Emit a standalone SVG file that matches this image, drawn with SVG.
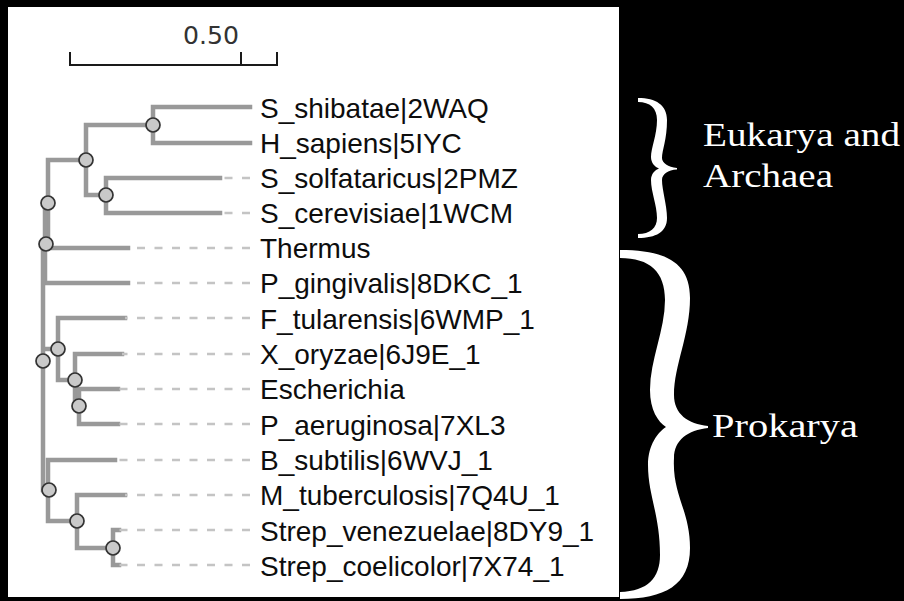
<svg xmlns="http://www.w3.org/2000/svg" width="904" height="601" viewBox="0 0 904 601">
<style>
.br{stroke:#999999;stroke-width:4.5;fill:none;stroke-linecap:square}
.ds{stroke:#c4c4c4;stroke-width:2.5;fill:none;stroke-dasharray:8 9.5}
.nd{fill:#c9c9c9;stroke:#333333;stroke-width:1.7}
.lb{font-family:"Liberation Sans",Arial,sans-serif;font-size:28px;fill:#0d0d0d}
.gl{font-family:"Liberation Serif","Times New Roman",serif;font-size:33px;fill:#ffffff}
.sc{stroke:#1a1a1a;stroke-width:2;fill:none}
</style>
<rect x="0" y="0" width="904" height="601" fill="#000"/>
<rect x="8" y="7" width="611" height="590" fill="#fff"/>
<g id="scale">
<path class="sc" d="M70,52V65H277V52M241,52V65"/>
<text x="183" y="44" textLength="56" lengthAdjust="spacingAndGlyphs" style="font-family:'DejaVu Sans',sans-serif;font-size:24px;fill:#333">0.50</text>
</g>
<g id="connectors">
<path class="br" d="M153,107V143M153,107H250M153,143H250"/>
<path class="br" d="M106,178V213M106,178H220M106,213H220"/>
<path class="br" d="M86,125V195M86,125H153M86,195H106"/>
<path class="br" d="M48,160V248M48,160H86M48,248H128"/>
<path class="br" d="M45,203V283M45,203H48M45,283H128"/>
<path class="br" d="M43,244V490M43,244H45M43,349H58M43,490H48"/>
<path class="br" d="M58,318V380M58,318H125M58,380H75"/>
<path class="br" d="M75,354V406M75,354H122M75,406H79"/>
<path class="br" d="M79,389V424M79,389H118M79,424H118"/>
<path class="br" d="M48,460V521M48,460H115M48,521H77"/>
<path class="br" d="M77,495V548M77,495H125M77,548H113"/>
<path class="br" d="M113,530V565M113,530H119M113,565H119"/>
<path class="ds" d="M250,178H220M250,213H220M250,248H128M250,283H128M250,318H125M250,354H122M250,389H118M250,424H118M250,460H115M250,495H125M250,530H119M250,565H119"/>
</g>
<g id="nA"><circle class="nd" cx="153" cy="125" r="7"/></g>
<g id="nC"><circle class="nd" cx="86" cy="160" r="7"/></g>
<g id="nB"><circle class="nd" cx="106" cy="195" r="7"/></g>
<g id="nD"><circle class="nd" cx="48" cy="203" r="7"/></g>
<g id="nE"><circle class="nd" cx="46" cy="244" r="7"/></g>
<g id="nH"><circle class="nd" cx="58" cy="349" r="7"/></g>
<g id="nF"><circle class="nd" cx="43" cy="361" r="7"/></g>
<g id="nI"><circle class="nd" cx="75" cy="380" r="7"/></g>
<g id="nJ"><circle class="nd" cx="79" cy="406" r="7"/></g>
<g id="nG"><circle class="nd" cx="49" cy="490" r="7"/></g>
<g id="nK"><circle class="nd" cx="77" cy="521" r="7"/></g>
<g id="nL"><circle class="nd" cx="113" cy="548" r="7"/></g>
<g id="leaf1"><text class="lb" x="260" y="117.5">S_shibatae|2WAQ</text></g>
<g id="leaf2"><text class="lb" x="260" y="153">H_sapiens|5IYC</text></g>
<g id="leaf3"><text class="lb" x="260" y="188">S_solfataricus|2PMZ</text></g>
<g id="leaf4"><text class="lb" x="260" y="223">S_cerevisiae|1WCM</text></g>
<g id="leaf5"><text class="lb" x="260" y="258">Thermus</text></g>
<g id="leaf6"><text class="lb" x="260" y="293">P_gingivalis|8DKC_1</text></g>
<g id="leaf7"><text class="lb" x="260" y="328.5">F_tularensis|6WMP_1</text></g>
<g id="leaf8"><text class="lb" x="260" y="364">X_oryzae|6J9E_1</text></g>
<g id="leaf9"><text class="lb" x="260" y="399">Escherichia</text></g>
<g id="leaf10"><text class="lb" x="260" y="434.5">P_aeruginosa|7XL3</text></g>
<g id="leaf11"><text class="lb" x="260" y="470">B_subtilis|6WVJ_1</text></g>
<g id="leaf12"><text class="lb" x="260" y="505">M_tuberculosis|7Q4U_1</text></g>
<g id="leaf13"><text class="lb" x="260" y="540.5">Strep_venezuelae|8DY9_1</text></g>
<g id="leaf14"><text class="lb" x="260" y="576">Strep_coelicolor|7X74_1</text></g>
<g id="brace1">
<path fill="#fff" d="M638,98C656,98 667,105 667,120C667,140 662,150 662,158C662,163 668,167 677,168L677,169.5C668,170 662,174 662,180C662,190 667,205 667,218C667,232 656,238 638,238L638,234C650,234 657,228 657,218C657,205 651,192 651,180C651,174 655,170 659,168.5C655,167 651,163 651,157C651,148 657,135 657,120C657,108 650,102 638,102Z"/>
<text class="gl" x="703" y="146" textLength="197" lengthAdjust="spacingAndGlyphs">Eukarya and</text>
<text class="gl" x="703" y="187" textLength="130" lengthAdjust="spacingAndGlyphs">Archaea</text>
</g>
<g id="brace2">
<path fill="#fff" d="M620,250C665,250 690,262 690,298C690,335 674,365 674,395C674,414 688,424 708,426L708,428C688,430 674,440 674,458C672,495 690,510 690,548C690,585 665,599 620,599L620,592C648,591 660,578 660,555C660,515 648,495 648,465C648,445 658,432 666,427C658,422 650,410 650,390C650,360 665,330 665,300C665,272 650,258 620,258Z"/>
<text class="gl" x="712" y="437" textLength="146" lengthAdjust="spacingAndGlyphs">Prokarya</text>
</g>
</svg>
